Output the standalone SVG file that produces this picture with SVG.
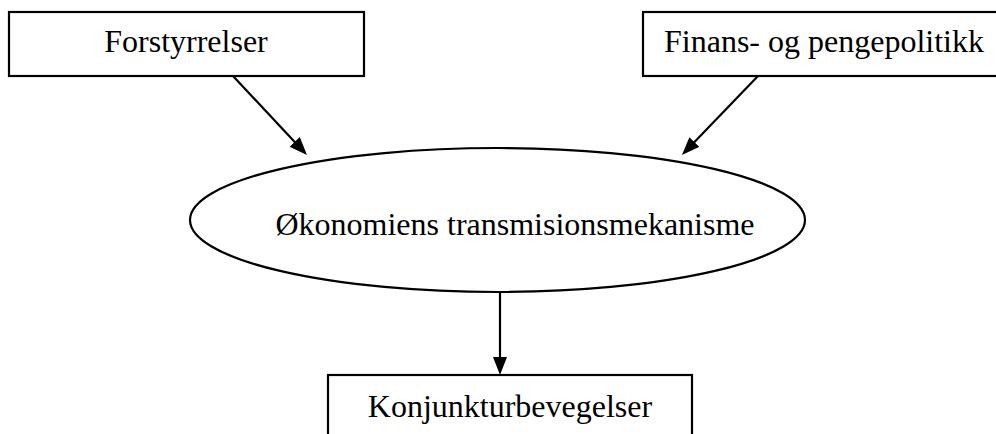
<svg xmlns="http://www.w3.org/2000/svg" width="996" height="434" viewBox="0 0 996 434">
<style>
.box{fill:#fff;stroke:#000;stroke-width:2.2}
.lbl{font-family:"Liberation Serif","Times New Roman",serif;font-size:32px;fill:#000}
.con{stroke:#000;stroke-width:2.2;fill:none}
</style>
<defs>
<marker id="ah" markerUnits="userSpaceOnUse" markerWidth="20" markerHeight="16" refX="10" refY="7" orient="auto">
<path d="M0,0 L18,7 L0,14 z" fill="#000"/>
</marker>
</defs>
<rect width="996" height="434" fill="#fff"/>
<g id="connectors">
<line class="con" x1="233" y1="76" x2="301.5" y2="149.2" marker-end="url(#ah)"/>
<line class="con" x1="758" y1="76" x2="687.5" y2="149.2" marker-end="url(#ah)"/>
<line class="con" x1="500" y1="292" x2="500" y2="367" marker-end="url(#ah)"/>
</g>
<g id="forstyrrelser">
<rect class="box" x="9" y="12" width="355" height="64"/>
<text class="lbl" x="186" y="52" text-anchor="middle">Forstyrrelser</text>
</g>
<g id="finans">
<rect class="box" x="643" y="12" width="356" height="64"/>
<text class="lbl" x="824" y="52" text-anchor="middle">Finans- og pengepolitikk</text>
</g>
<g id="transmisjon">
<ellipse class="box" cx="497.5" cy="220" rx="307.5" ry="72"/>
<text class="lbl" x="515" y="235" text-anchor="middle">Økonomiens transmisionsmekanisme</text>
</g>
<g id="konjunktur">
<rect class="box" x="328" y="375" width="364" height="70"/>
<text class="lbl" x="510" y="417" text-anchor="middle">Konjunkturbevegelser</text>
</g>
</svg>
